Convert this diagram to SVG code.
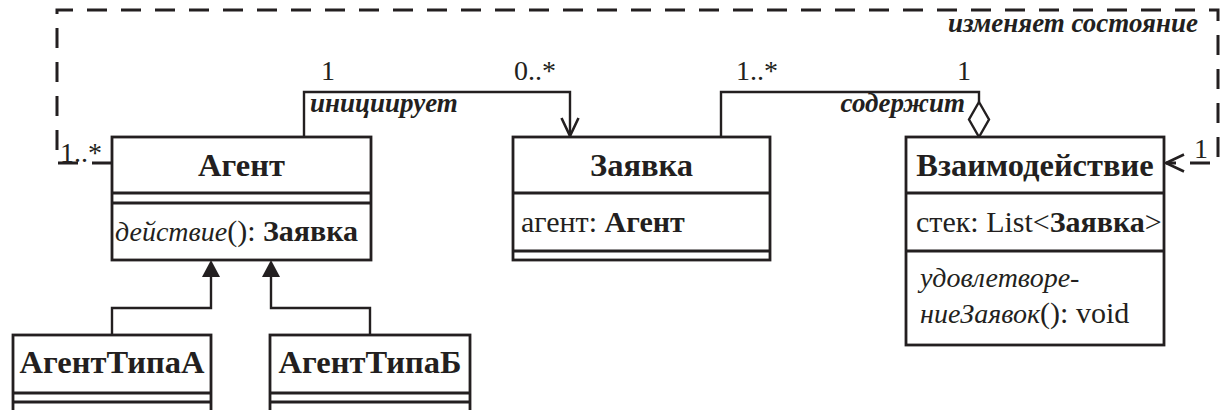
<svg xmlns="http://www.w3.org/2000/svg" width="1220" height="410" viewBox="0 0 1220 410">
  <style>
    .box { fill: #ffffff; stroke: #231f20; stroke-width: 2.8; }
    .sep { stroke: #231f20; stroke-width: 2.8; fill: none; }
    .conn { fill: none; stroke: #231f20; stroke-width: 2.4; }
    .dash { fill: none; stroke: #231f20; stroke-width: 3; stroke-dasharray: 20 14; }
    text { font-family: "Liberation Serif", "Times New Roman", serif; fill: #231f20; }
    .name { font-size: 32.5px; font-weight: bold; text-anchor: middle; }
    .mem { font-size: 30px; }
    .mult { font-size: 28px; }
    .role { font-size: 27px; font-weight: bold; font-style: italic; }
    .b { font-weight: bold; }
    .i { font-style: italic; font-size: 28px; }
  </style>
  <defs>
    <marker id="open" viewBox="0 0 20 20" markerWidth="20" markerHeight="20" refX="19" refY="10" orient="auto" markerUnits="userSpaceOnUse">
      <path d="M1,1.5 L19,10 L1,18.5" fill="none" stroke="#231f20" stroke-width="2.6" stroke-dasharray="none"/>
    </marker>
    <marker id="tri" viewBox="0 0 17 18" markerWidth="17" markerHeight="18" refX="0" refY="9" orient="auto" markerUnits="userSpaceOnUse">
      <path d="M0,0 L17,9 L0,18 Z" fill="#231f20" stroke="none"/>
    </marker>
    <marker id="diamond" viewBox="-2 -2 39 24" markerWidth="39" markerHeight="24" refX="0" refY="10" orient="auto" markerUnits="userSpaceOnUse">
      <path d="M0,10 L17.5,0 L35,10 L17.5,20 Z" fill="#ffffff" stroke="#231f20" stroke-width="2.4"/>
    </marker>
  </defs>

  <!-- connectors -->
  <g id="connectors">
    <!-- изменяет состояние (dependency) -->
    <path class="dash" d="M112,163 H57 V10 H1218 V163 H1166" marker-end="url(#open)"/>
    <!-- инициирует -->
    <path class="conn" d="M304,137 V92 H570 V136" marker-end="url(#open)"/>
    <!-- содержит (aggregation) -->
    <path class="conn" d="M721,137 V92 H979 V102" marker-end="url(#diamond)"/>
    <!-- generalisation -->
    <path class="conn" d="M112,335 V308 H211 V277" marker-end="url(#tri)"/>
    <path class="conn" d="M370,335 V308 H271 V277" marker-end="url(#tri)"/>
  </g>

  <!-- connector labels -->
  <g id="labels">
    <text class="role" x="1198" y="32" text-anchor="end">изменяет состояние</text>
    <text class="mult" x="60" y="162">1..*</text>
    <text class="mult" x="1194" y="158">1</text>
    <text class="mult" x="328" y="80" text-anchor="middle">1</text>
    <text class="mult" x="535" y="80" text-anchor="middle">0..*</text>
    <text class="role" x="310" y="112">инициирует</text>
    <text class="mult" x="757" y="80" text-anchor="middle">1..*</text>
    <text class="mult" x="964" y="80" text-anchor="middle">1</text>
    <text class="role" x="965" y="112" text-anchor="end">содержит</text>
  </g>

  <g id="agent">
    <rect class="box" x="112" y="137" width="259" height="123"/>
    <path class="sep" d="M112,193 H371 M112,203 H371"/>
    <text class="name" x="241.5" y="176">Агент</text>
    <text class="mem" x="115" y="241"><tspan class="i">действие</tspan>(): <tspan class="b">Заявка</tspan></text>
  </g>

  <g id="zayavka">
    <rect class="box" x="513" y="137" width="257" height="123"/>
    <path class="sep" d="M513,193 H770 M513,251 H770"/>
    <text class="name" x="641.5" y="176">Заявка</text>
    <text class="mem" x="521" y="232">агент: <tspan class="b">Агент</tspan></text>
  </g>

  <g id="vzaimodeistvie">
    <rect class="box" x="906" y="137" width="258" height="208"/>
    <path class="sep" d="M906,193 H1164 M906,251 H1164"/>
    <text class="name" x="1035" y="176">Взаимодействие</text>
    <text class="mem" x="916" y="232">стек: List&lt;<tspan class="b">Заявка</tspan>&gt;</text>
    <text class="mem" x="920" y="287"><tspan class="i">удовлетворе-</tspan></text>
    <text class="mem" x="920" y="323"><tspan class="i">ниеЗаявок</tspan>(): void</text>
  </g>

  <g id="agent-a">
    <rect class="box" x="13" y="335" width="198" height="85"/>
    <path class="sep" d="M13,393 H211 M13,402 H211"/>
    <text class="name" x="112" y="373">АгентТипаА</text>
  </g>

  <g id="agent-b">
    <rect class="box" x="270" y="335" width="200" height="85"/>
    <path class="sep" d="M270,393 H470 M270,402 H470"/>
    <text class="name" x="370" y="373">АгентТипаБ</text>
  </g>
</svg>
